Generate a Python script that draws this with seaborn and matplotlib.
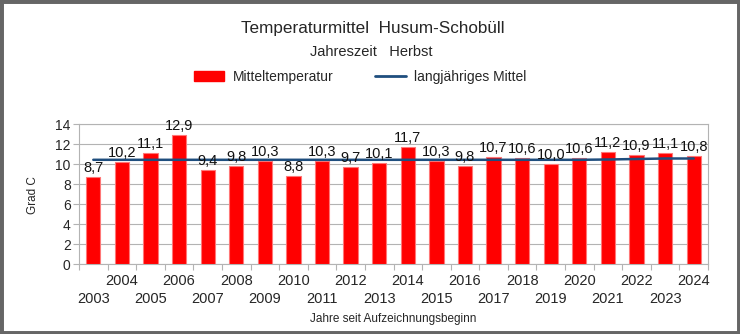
import matplotlib
matplotlib.use("Agg")
import matplotlib.pyplot as plt
import seaborn as sns
import numpy as np
import pandas as pd
from matplotlib.patches import Patch, Rectangle
from matplotlib.lines import Line2D

years = [str(y) for y in range(2003, 2025)]
mean_temp = [8.7, 10.2, 11.1, 12.9, 9.4, 9.8, 10.3, 8.8, 10.3, 9.7, 10.1,
             11.7, 10.3, 9.8, 10.7, 10.6, 10.0, 10.6, 11.2, 10.9, 11.1, 10.8]
long_mean = [10.42, 10.42, 10.42, 10.42, 10.42, 10.42, 10.42, 10.42, 10.42, 10.42, 10.42,
             10.42, 10.42, 10.42, 10.42, 10.42, 10.42, 10.42, 10.45, 10.5, 10.55, 10.55]
y_ticks = [0, 2, 4, 6, 8, 10, 12, 14]

title = "Temperaturmittel  Husum-Schobüll"
subtitle = "Jahreszeit   Herbst"
xlabel = "Jahre seit Aufzeichnungsbeginn"
ylabel = "Grad C"

sns.set_theme(style="white")
plt.rcParams['font.family'] = ['Liberation Sans', 'DejaVu Sans']

df = pd.DataFrame({"Jahr": years, "Temp": mean_temp})

fig = plt.figure(figsize=(7.4, 3.34), dpi=100)
ax = fig.add_axes([79/740, 70/334, 629/740, 140/334])

sns.barplot(data=df, x="Jahr", y="Temp", ax=ax, color="#ff0000", width=0.5,
            saturation=1, edgecolor="#ff7777", linewidth=0.8, zorder=3)
x_pos = np.arange(len(years))
sns.lineplot(x=x_pos, y=long_mean, ax=ax, color="#1f4e7e", linewidth=1.8, zorder=4)

for i, v in enumerate(mean_temp):
    ax.text(i, v + 0.2, f"{v:.1f}".replace(".", ","), ha="center", va="bottom",
            fontsize=10.5, color="#111111", zorder=5)

ax.set_xlim(-0.5, len(years) - 0.5)
ax.set_ylim(0, 14)
ax.set_yticks(y_ticks)
ax.set_yticklabels([str(t) for t in y_ticks], fontsize=10)
ax.yaxis.grid(True, color="#b3b3b3", linewidth=0.8, zorder=0)
ax.set_axisbelow(True)

# upper row: even years (major), lower row: odd years (minor)
even_idx = [i for i, y in enumerate(years) if int(y) % 2 == 0]
odd_idx = [i for i, y in enumerate(years) if int(y) % 2 == 1]
ax.set_xticks(even_idx)
ax.set_xticklabels([years[i] for i in even_idx], fontsize=10.5)
ax.set_xticks(odd_idx, minor=True)
ax.set_xticklabels([years[i] for i in odd_idx], fontsize=10.5, minor=True)
ax.tick_params(axis="x", which="major", length=0, pad=7.5)
ax.tick_params(axis="x", which="minor", length=0, pad=20)
ax.tick_params(axis="y", length=4, color="#b3b3b3", width=0.8, pad=2, left=True)
for s in ax.spines.values():
    s.set_color("#b3b3b3")
    s.set_linewidth(0.8)
ax.set_xlabel("")
ax.set_ylabel("")

# category boundary tick marks
sec = ax.secondary_xaxis("bottom")
sec.set_xticks(np.arange(-0.5, len(years)))
sec.set_xticklabels([])
sec.tick_params(axis="x", length=4, color="#b3b3b3", width=0.8)
sec.spines["bottom"].set_visible(False)

fig.text(33/740, 1 - 195/334, ylabel, rotation=90, ha="center", va="center", fontsize=8.5)
fig.text(393/740, 1 - 319/334, xlabel, ha="center", va="center", fontsize=8.5)
fig.text(373/740, 1 - 28/334, title, ha="center", va="center", fontsize=12.3)
fig.text(371/740, 1 - 52/334, subtitle, ha="center", va="center", fontsize=10.5)

handles = [Patch(facecolor="#ff0000", edgecolor="#ff0000"),
           Line2D([0], [0], color="#1f4e7e", linewidth=2)]
fig.legend(handles, ["Mitteltemperatur", "langjähriges Mittel"], loc="center",
           bbox_to_anchor=(360/740, 1 - 77/334), ncol=2, frameon=False, fontsize=10,
           handlelength=2.2, handleheight=0.8, columnspacing=3.0, handletextpad=0.6)

fig.patches.append(Rectangle((0, 0), 1, 1, transform=fig.transFigure, fill=False,
                             edgecolor="#666666", linewidth=5, zorder=10))

fig.savefig("out.png", dpi=100)
